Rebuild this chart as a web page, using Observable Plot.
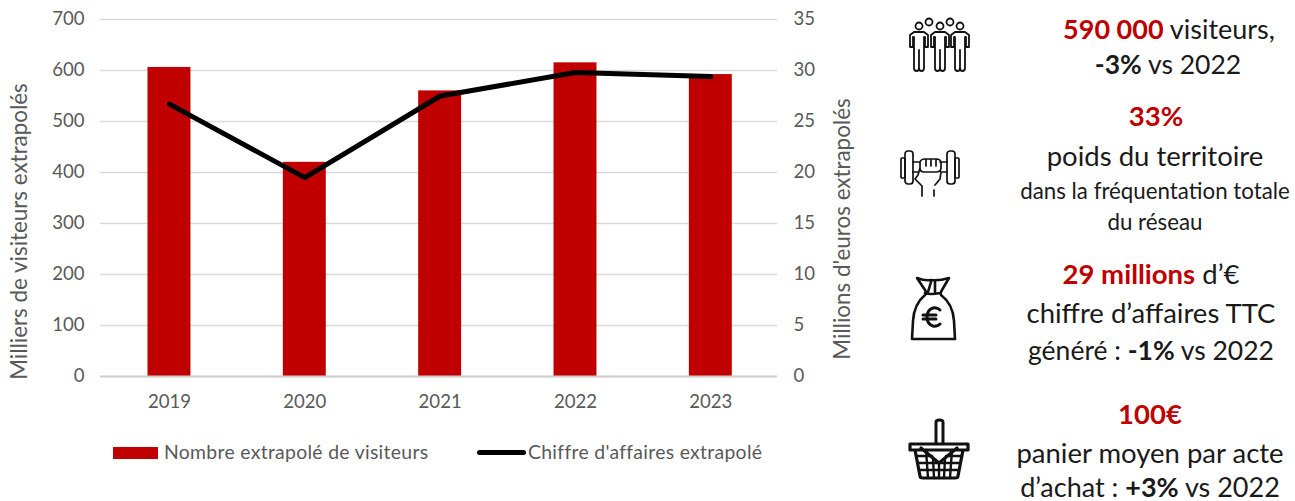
<!DOCTYPE html>
<html lang="fr"><head><meta charset="utf-8">
<style>
html,body{margin:0;padding:0;background:#fff;width:1295px;height:501px;overflow:hidden;font-family:Lato,sans-serif}
#chart{position:absolute;left:0;top:0}
.lg{position:absolute;color:#595959;font-size:19.4px;letter-spacing:.3px;line-height:20px;top:442px;white-space:nowrap}
.sw{position:absolute}
.t{position:absolute;transform:translate(-50%,-50%);white-space:nowrap;color:#1a1a1a;font-size:27.5px;line-height:.9}
.t.s{font-size:22.3px}
.t.n{font-size:26.5px}
.t b{font-weight:700}
.t b.r{color:#c00000}
.ic{position:absolute;fill:none;stroke:#111;stroke-linecap:round;stroke-linejoin:round}
</style></head><body>
<div id="chart"></div>
<div class="sw" style="left:113px;top:447px;width:45px;height:12px;background:#c00000"></div>
<div class="lg" style="left:164px">Nombre extrapolé de visiteurs</div>
<div class="sw" style="left:477px;top:450px;width:49px;height:5px;background:#000;border-radius:3px"></div>
<div class="lg" style="left:528px">Chiffre d'affaires extrapolé</div>

<svg class="ic" style="left:905px;top:13px" width="70" height="64" viewBox="0 0 70 64" stroke-width="1.800">
<g id="p"><circle cx="14" cy="13" r="3.500"/><path d="M9 19h10l4 3v12h-3V24M8 24v10H5V22l4-3M9 24v31q0 3 2.500 3t2.500-3V37v18q0 3 2.500 3t2.500-3V24"/></g>
<use href="#p" x="21"/><use href="#p" x="41"/>
<circle cx="24" cy="9" r="3.500"/><circle cx="45" cy="9" r="3.500"/>
</svg>
<svg class="ic" style="left:898px;top:148px" width="66" height="52" viewBox="0 0 66 52" stroke-width="1.700">
<rect x="3" y="10" width="4" height="20" rx="1"/><rect x="7" y="3" width="8" height="33" rx="3"/>
<rect x="49" y="3" width="8" height="33" rx="3"/><rect x="57" y="10" width="4" height="20" rx="1"/>
<path d="M15 14h7M42 14h7M15 24h5M44 24h5M22 14q1-3 5-3h11q5 0 5 4v5q0 4-5 4H26q-4 0-4-4zM28 11v7M33 11v7M38 11v7M22 20l-2 7-3 4 7 7v10M43 24l-1 7-5 6M36 42v6"/>
</svg>
<svg class="ic" style="left:908px;top:274px" width="50" height="68" viewBox="0 0 50 68" stroke-width="2.600">
<path d="M9 4q8 3 14 2 8 1 18-2l-7 12q-2 3-1 5 12 9 13 26l1 18H4l1-18Q6 30 17 21q2-2 0-5zM17 19q5 2 15 0M23 8l-3 10M27 8v10"/>
<path d="M32 36q-3-3-7-2-6 2-6 9t6 9q4 1 7-2M15 41h13M15 45h13" stroke-width="3"/>
</svg>
<svg class="ic" style="left:906px;top:416px" width="66" height="68" viewBox="0 0 66 68" stroke-width="3">
<path d="M30 27V6q0-2 3.500-2T37 6v21"/>
<path d="M4 28h58v6H4zM9 34l5 26q0 2 3 2h32q3 0 3-2l5-26M15 32l18 15 18-15" stroke-width="3.200"/>
<path d="M10 40h16M40 40h16M12 47h42M13 54h40M20 34l2 28M27 42l1 20M33 47v15M39 42l-1 20M46 34l-2 28" stroke-width="2.400"/>
</svg>

<div class="t" style="left:1169px;top:29px;font-size:27px"><b class="r">590 000</b> visiteurs,</div>
<div class="t n" style="left:1168px;top:65px"><b>-3%</b> vs 2022</div>
<div class="t" style="left:1156px;top:116px"><b class="r">33%</b></div>
<div class="t" style="left:1155px;top:156px">poids du territoire</div>
<div class="t s" style="left:1155px;top:191px">dans la fréquentation totale</div>
<div class="t s" style="left:1155px;top:222px">du réseau</div>
<div class="t" style="left:1151px;top:274px"><b class="r">29 millions</b> d’€</div>
<div class="t" style="left:1151px;top:313px">chiffre d’affaires TTC</div>
<div class="t n" style="left:1151px;top:351px">généré : <b>-1%</b> vs 2022</div>
<div class="t" style="left:1150px;top:414px"><b class="r">100€</b></div>
<div class="t" style="left:1150px;top:453px">panier moyen par acte</div>
<div class="t n" style="left:1150px;top:487px;font-size:27px">d’achat : <b>+3%</b> vs 2022</div>

<script src="https://cdn.jsdelivr.net/npm/d3@7"></script>
<script src="https://cdn.jsdelivr.net/npm/@observablehq/plot@0.6"></script>
<script>
const years = ["2019","2020","2021","2022","2023"];
const visiteurs = [606,420,560,615,592];
const chiffre = [26.7,19.5,27.5,29.8,29.4];
const leftTicks = [0,100,200,300,400,500,600,700];
const rightTicks = [0,5,10,15,20,25,30,35];
const ratio = 700/35;
const bars = years.map((y,i)=>({y,v:visiteurs[i]}));
const line = years.map((y,i)=>({y,v:chiffre[i]*ratio}));
const grey = "#595959";
const plot = Plot.plot({
  width:860,height:415,marginLeft:100,marginRight:83,marginTop:19,marginBottom:39,
  style:{fontFamily:'Lato,sans-serif',fontSize:"18.6px",color:grey,background:"transparent",overflow:"visible"},
  x:{domain:years,padding:0,round:false,range:[101.3,778],label:null},
  y:{domain:[0,700],label:null},
  marks:[
    Plot.gridY(leftTicks,{stroke:"#d9d9d9",strokeOpacity:1,strokeWidth:1.3}),
    Plot.barY(bars,{x:"y",y:"v",fill:"#c00000",insetLeft:46.2,insetRight:46.2}),
    Plot.ruleY([0],{stroke:"#d0d0d0",strokeWidth:2}),
    Plot.line(line,{x:"y",y:"v",stroke:"#000",strokeWidth:5,strokeLinejoin:"round",strokeLinecap:"round"}),
    Plot.axisX({tickSize:0,tickPadding:18,label:null,fill:grey}),
    Plot.axisY({ticks:leftTicks,anchor:"left",tickSize:0,tickPadding:16,label:null,fill:grey}),
    Plot.axisY({ticks:rightTicks.map(d=>d*ratio),tickFormat:d=>d/ratio,anchor:"right",tickSize:0,tickPadding:16,label:null,fill:grey}),
    Plot.text(["Milliers de visiteurs extrapolés"],{frameAnchor:"left",textAnchor:"middle",dx:-81,dy:33.500,rotate:-90,fill:grey,fontSize:22.4}),
    Plot.text(["Millions d'euros extrapolés"],{frameAnchor:"right",textAnchor:"middle",dx:65,dy:31,rotate:-90,fill:grey,fontSize:22.4})
  ]
});
document.getElementById("chart").appendChild(plot);
</script>
</body></html>
